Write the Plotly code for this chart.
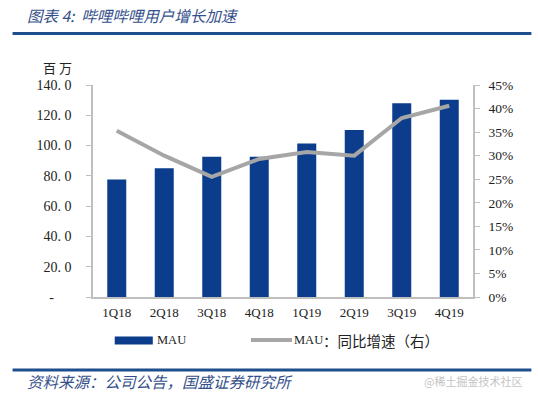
import plotly.graph_objects as go

categories = ["1Q18", "2Q18", "3Q18", "4Q18", "1Q19", "2Q19", "3Q19", "4Q19"]
mau = [77.6, 85.0, 92.6, 92.7, 101.3, 110.3, 127.9, 130.3]
yoy = [35.3, 30.0, 25.5, 29.3, 30.8, 30.0, 38.0, 40.6]
left_ticks = [0, 20, 40, 60, 80, 100, 120, 140]
left_text = ["-\u00a0\u00a0\u00a0\u00a0\u00a0", "20. 0", "40. 0", "60. 0", "80. 0",
             "100. 0", "120. 0", "140. 0"]
right_ticks = [0, 5, 10, 15, 20, 25, 30, 35, 40, 45]
right_text = [f"{v}%" for v in right_ticks]

W, H = 538, 397
L, R, T, B = 93.3, 472.7, 85.0, 297.5

def px(x):
    return (x - L) / (R - L)

def py(y):
    return (B - y) / (B - T)

BLUE = "#0b3d8c"
GRAY = "#a6a6a6"
AXIS = "#bfbfbf"
TXT_BLUE = "#34508c"
SERIF = "Liberation Serif, Noto Sans CJK SC, serif"
CJK = "Noto Sans CJK SC"

fig = go.Figure()
fig.add_trace(go.Bar(x=categories, y=mau, marker=dict(color=BLUE, line_width=0),
                     name="MAU", showlegend=False))
fig.add_trace(go.Scatter(x=categories, y=yoy, yaxis="y2", mode="lines",
                         line=dict(color=GRAY, width=4), name="MAU：同比增速（右）",
                         showlegend=False))

fig.update_layout(
    width=W, height=H,
    margin=dict(l=L, r=W - R, t=T, b=H - B),
    paper_bgcolor="white", plot_bgcolor="white",
    bargap=0.6,
    font=dict(family=SERIF, size=13, color="#222"),
    xaxis=dict(showline=True, linecolor=AXIS, linewidth=2, ticks="",
               showgrid=False, tickfont=dict(size=13, family=SERIF),
               ticklabelstandoff=2),
    yaxis=dict(range=[0, 140], tickvals=left_ticks, ticktext=left_text,
               showline=True, linecolor=AXIS, linewidth=1.5, ticks="outside",
               ticklen=5, tickcolor=AXIS, showgrid=False, zeroline=False,
               ticklabelstandoff=12, tickfont=dict(size=14, family=SERIF)),
    yaxis2=dict(range=[0, 45], tickvals=right_ticks, ticktext=right_text,
                overlaying="y", side="right", showline=True, linecolor=AXIS,
                linewidth=1.5, ticks="outside", ticklen=5, tickcolor=AXIS,
                showgrid=False, zeroline=False, ticklabelstandoff=6,
                tickfont=dict(size=13.5, family=SERIF)),
)

shapes = [
    dict(type="line", xref="paper", yref="paper", x0=px(13), x1=px(531),
         y0=py(33.5), y1=py(33.5), line=dict(color="#1f4e8c", width=3)),
    dict(type="line", xref="paper", yref="paper", x0=px(13), x1=px(531),
         y0=py(370.7), y1=py(370.7), line=dict(color="#1f4e8c", width=3)),
    dict(type="rect", xref="paper", yref="paper", x0=px(115), x1=px(153),
         y0=py(345), y1=py(337), line_width=0, fillcolor=BLUE),
    dict(type="line", xref="paper", yref="paper", x0=px(251), x1=px(292),
         y0=py(340.5), y1=py(340.5), line=dict(color=GRAY, width=4)),
]
fig.update_layout(shapes=shapes)

ann = [
    dict(text="<i>图表 4:  哔哩哔哩用户增长加速</i>", x=px(25), y=py(15),
         xanchor="left", yanchor="middle",
         font=dict(size=15.5, color=TXT_BLUE, family=CJK)),
    dict(text="百 万", x=px(74), y=py(67.3), xanchor="right", yanchor="middle",
         font=dict(size=13, color="#222", family=CJK)),
    dict(text="MAU", x=px(155), y=py(341), xanchor="left", yanchor="middle",
         font=dict(size=12.5, color="#222", family=SERIF)),
    dict(text="MAU", x=px(292), y=py(341), xanchor="left", yanchor="middle",
         font=dict(size=12.5, color="#222", family=SERIF)),
    dict(text="：同比增速（右）", x=px(321), y=py(341), xanchor="left",
         yanchor="middle", font=dict(size=14.5, color="#222", family=CJK)),
    dict(text="<i>资料来源：公司公告，国盛证券研究所</i>", x=px(25), y=py(381.7),
         xanchor="left", yanchor="middle",
         font=dict(size=15.5, color=TXT_BLUE, family=CJK)),
    dict(text="@稀土掘金技术社区", x=px(524), y=py(381.7), xanchor="right",
         yanchor="middle",
         font=dict(size=11, color="#c4c4c4", family=CJK)),
]
for a in ann:
    a.update(xref="paper", yref="paper", showarrow=False)
fig.update_layout(annotations=ann)

fig.write_html("out.html", config={"displayModeBar": False},
               post_script="document.body.style.margin='0';document.body.style.padding='0';")
